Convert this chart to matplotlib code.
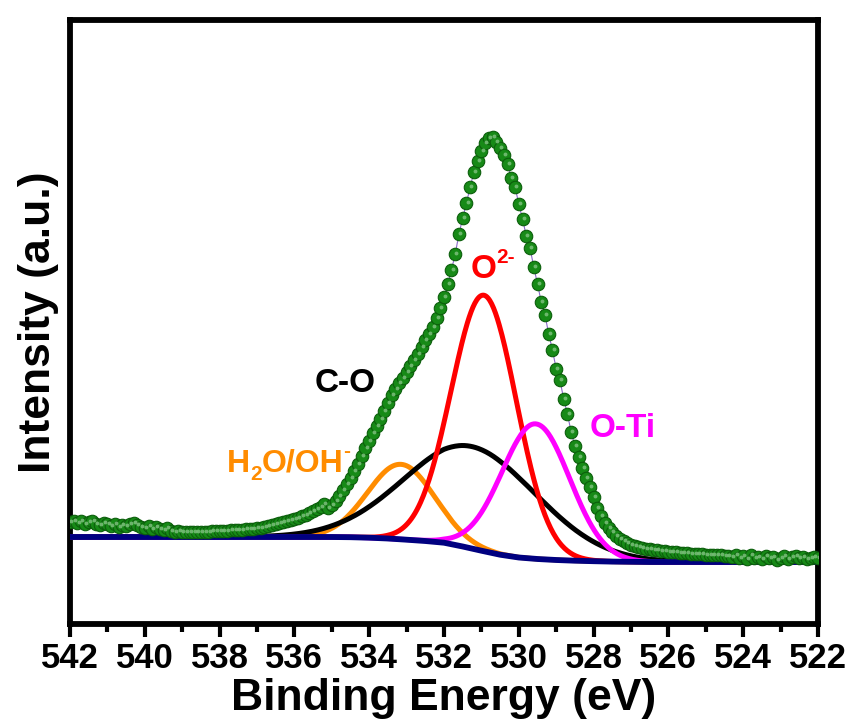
import numpy as np
import matplotlib
matplotlib.use("Agg")
import matplotlib.pyplot as plt
from matplotlib.ticker import MultipleLocator

plt.rcParams['font.family'] = ['Liberation Sans', 'DejaVu Sans']
plt.rcParams['font.weight'] = 'bold'

# ---- measured spectrum (binding energy from 542.0 down to 522.0 eV, step 0.1) ----
be_start = 542.0
be_step = -0.1
intensity = [
    102, 103, 101, 103, 100, 102, 103, 100, 99, 101,
    100, 98, 100, 97, 99, 98, 100, 101, 99, 97,
    96, 98, 95, 97, 95, 94, 96, 93, 92, 93,
    92, 92, 92, 92, 92, 92, 92, 92, 93, 93,
    93, 93, 93, 94, 94, 94, 94, 95, 95, 95,
    96, 96, 97, 98, 99, 100, 101, 102, 103, 104,
    105, 106, 108, 109, 111, 113, 115, 117, 120, 116,
    119, 123, 128, 134, 140, 146, 153, 160, 168, 176,
    183, 191, 198, 205, 213, 221, 229, 235, 241, 246,
    252, 258, 264, 270, 277, 284, 290, 297, 306, 316,
    327, 340, 354, 370, 390, 406, 421, 437, 452, 463,
    473, 481, 486, 487, 482, 476, 469, 460, 446, 437,
    420, 405, 388, 376, 357, 340, 322, 309, 290, 274,
    255, 244, 225, 210, 192, 178, 167, 156, 146, 137,
    127, 116, 108, 101, 96, 92, 88, 85, 83, 81,
    79, 78, 77, 76, 75, 75, 74, 74, 73, 73,
    72, 72, 72, 71, 71, 71, 70, 70, 70, 70,
    69, 69, 69, 69, 69, 68, 68, 67, 69, 66,
    68, 65, 69, 66, 67, 65, 68, 66, 67, 64,
    66, 68, 65, 67, 68, 66, 67, 65, 66, 67,
    66,
]

# ---- Shirley background (navy), every 0.5 eV from 542 to 522 ----
bg_energy = [542.0, 541.5, 541.0, 540.5, 540.0, 539.5, 539.0, 538.5, 538.0, 537.5,
             537.0, 536.5, 536.0, 535.5, 535.0, 534.5, 534.0, 533.5, 533.0, 532.5,
             532.0, 531.5, 531.0, 530.5, 530.0, 529.5, 529.0, 528.5, 528.0, 527.5,
             527.0, 526.5, 526.0, 525.5, 525.0, 524.5, 524.0, 523.5, 523.0, 522.5, 522.0]
bg_level = [87, 87, 87, 87, 87, 87, 87, 87, 87, 87,
            87, 87, 87, 87, 87, 86.8, 86.3, 85.5, 84.3, 83.0,
            81.3, 77.5, 73.3, 69.3, 66.5, 65.0, 64.0, 63.3, 62.8, 62.4,
            62.2, 62.0, 62.0, 62.0, 62.0, 62.0, 62.0, 62.0, 62.0, 62.0, 62.0]

# ---- fitted components: name, centre (eV), height, FWHM (eV) ----
comp_names = ['H2O/OH-', 'C-O', 'O2-', 'O-Ti']
comp_center = [533.15, 531.25, 530.93, 529.55]
comp_height = [75, 102, 256, 135]
comp_fwhm = [2.1, 4.2, 2.05, 2.15]
comp_colors = ['#ff8c00', '#000000', '#ff0000', '#ff00ff']

be = be_start + be_step * np.arange(len(intensity))
fine = np.linspace(542, 522, 801)
bg_fine = np.interp(fine, bg_energy[::-1], bg_level[::-1])

fig = plt.figure(figsize=(8.49, 7.26), dpi=100)
ax = fig.add_axes([70/849, (726-624)/726, (818-70)/849, (624-20)/726])

for c, h, w, col in zip(comp_center, comp_height, comp_fwhm, comp_colors):
    s = w / 2.3548
    ax.plot(fine, bg_fine + h * np.exp(-0.5 * ((fine - c) / s) ** 2),
            color=col, lw=3.6, zorder=3)
ax.plot(bg_energy, bg_level, color='#000080', lw=4.2, zorder=3.5,
        solid_capstyle='round')

ax.plot(be, intensity, color='#8a6ac8', lw=0.8, zorder=4)
ax.plot(be, intensity, ls='none', marker='o', ms=9, mfc='#178a17',
        mec='#0b5e0b', mew=0.8, zorder=5)
ax.plot(be - 0.03, np.array(intensity) + 1.5, ls='none', marker='o', ms=2.8,
        mfc='#7cc07c', mec='none', alpha=0.85, zorder=6)

ax.set_xlim(542, 522)
ax.set_ylim(0, 604)
ax.xaxis.set_major_locator(MultipleLocator(2))
ax.xaxis.set_minor_locator(MultipleLocator(1))
ax.set_yticks([])
ax.tick_params(axis='x', which='major', direction='out', length=9, width=3,
               labelsize=25, pad=4, top=False)
ax.tick_params(axis='x', which='minor', direction='out', length=5.5, width=3, top=False)
for lab in ax.get_xticklabels():
    lab.set_fontweight('bold')
for sp in ax.spines.values():
    sp.set_linewidth(4.2)

ax.set_xlabel('Binding Energy (eV)', fontsize=32, fontweight='bold', labelpad=2)
ax.set_ylabel('Intensity (a.u.)', fontsize=32, fontweight='bold', labelpad=8)

renderer = fig.canvas.get_renderer()


def rich_text(x, y, parts, color):
    """parts: list of (string, fontsize, vertical offset in points)."""
    dx = 0.0
    for s, size, dy in parts:
        t = ax.annotate(s, xy=(x, y), xycoords='data', xytext=(dx, dy),
                        textcoords='offset points', ha='left', va='baseline',
                        fontsize=size, fontweight='bold', color=color, zorder=7)
        w = t.get_window_extent(renderer).width * 72.0 / fig.dpi
        dx += w


rich_text(537.8, 152, [('H', 23, 0), ('2', 15, -6), ('O/OH', 23, 0), ('-', 15, 11)],
          '#ff8c00')
rich_text(535.45, 232, [('C-O', 24, 0)], '#000000')
rich_text(531.3, 346, [('O', 24, 0), ('2-', 15, 11)], '#ff0000')
rich_text(528.1, 187, [('O-Ti', 24, 0)], '#ff00ff')

fig.savefig('out.png', dpi=100)
